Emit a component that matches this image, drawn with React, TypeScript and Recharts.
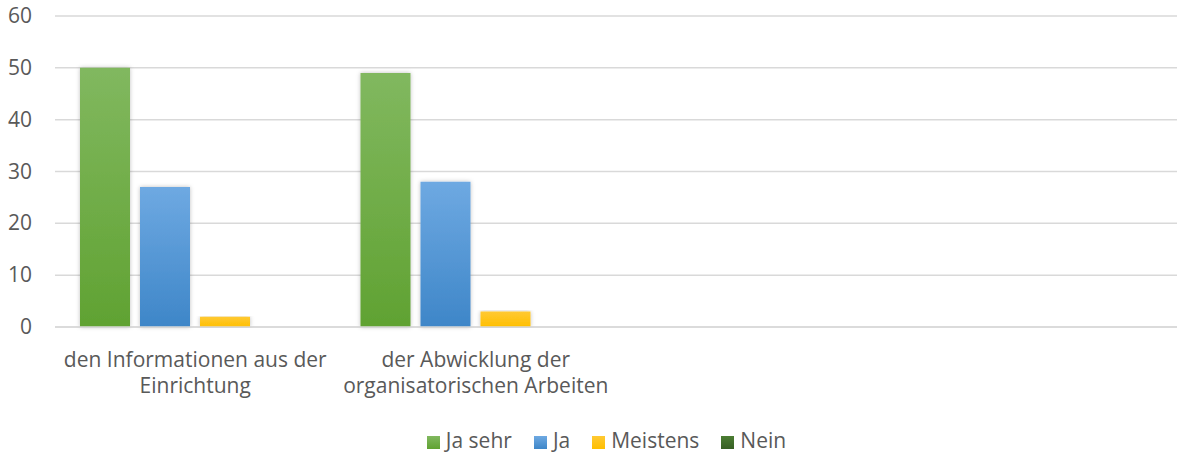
import { BarChart, Bar, XAxis, YAxis, CartesianGrid, Legend } from "recharts";

const categories = [
  "den Informationen aus der Einrichtung",
  "der Abwicklung der organisatorischen Arbeiten",
  "",
  "",
];
// how each category label breaks into lines on the axis
const categoryLines: Record<string, string[]> = {
  "den Informationen aus der Einrichtung": ["den Informationen aus der", "Einrichtung"],
  "der Abwicklung der organisatorischen Arbeiten": ["der Abwicklung der", "organisatorischen Arbeiten"],
};
const seriesNames = ["Ja sehr", "Ja", "Meistens", "Nein"];
const jaSehr = [50, 49, null, null];
const ja = [27, 28, null, null];
const meistens = [2, 3, null, null];
const nein = [0, 0, null, null];
const yTicks = [0, 10, 20, 30, 40, 50, 60];

const data = categories.map((name, i) => ({
  name,
  jaSehr: jaSehr[i],
  ja: ja[i],
  meistens: meistens[i],
  nein: nein[i],
}));

const FONT = "'Open Sans', 'Noto Sans', sans-serif";

function CategoryTick(props: any) {
  const { x, y, payload } = props;
  const lines = categoryLines[payload.value] || [];
  return (
    <text x={x} y={y} textAnchor="middle" fill="#595959" fontSize={21} fontFamily={FONT}>
      {lines.map((line, i) => (
        <tspan key={i} x={x} y={y + 32 + i * 26}>
          {line}
        </tspan>
      ))}
    </text>
  );
}

function YTick(props: any) {
  const { x, y, payload } = props;
  return (
    <text x={x} y={y + 7} textAnchor="end" fill="#595959" fontSize={21} fontFamily={FONT}>
      {payload.value}
    </text>
  );
}

export default function App() {
  return (
    <div style={{ position: "absolute", left: 0, top: 0, background: "#fff" }}>
      <BarChart
        width={1177}
        height={455}
        data={data}
        margin={{ top: 16, right: 0, bottom: 0, left: 0 }}
        barCategoryGap={25}
        barGap={10}
      >
        <defs>
          <linearGradient id="gGreen" x1="0" y1="0" x2="0" y2="1">
            <stop offset="0%" stopColor="#81b85f" />
            <stop offset="100%" stopColor="#60a232" />
          </linearGradient>
          <linearGradient id="gBlue" x1="0" y1="0" x2="0" y2="1">
            <stop offset="0%" stopColor="#6ea9e2" />
            <stop offset="100%" stopColor="#3e86c8" />
          </linearGradient>
          <linearGradient id="gYellow" x1="0" y1="0" x2="0" y2="1">
            <stop offset="0%" stopColor="#ffc933" />
            <stop offset="100%" stopColor="#ffbf00" />
          </linearGradient>
          <linearGradient id="gDark" x1="0" y1="0" x2="0" y2="1">
            <stop offset="0%" stopColor="#4b7d33" />
            <stop offset="100%" stopColor="#375f24" />
          </linearGradient>
          <filter id="shadow" x="-20%" y="-5%" width="140%" height="110%">
            <feDropShadow dx="0" dy="0" stdDeviation="2" floodColor="#000" floodOpacity="0.25" />
          </filter>
        </defs>
        <CartesianGrid vertical={false} stroke="#d9d9d9" strokeWidth={1.5} />
        <XAxis
          dataKey="name"
          axisLine={{ stroke: "#d9d9d9", strokeWidth: 1.5 }}
          tickLine={false}
          height={96}
          interval={0}
          tick={<CategoryTick />}
        />
        <YAxis
          domain={[0, 60]}
          ticks={yTicks}
          width={55}
          axisLine={false}
          tickLine={false}
          tickSize={0}
          tickMargin={23}
          tick={<YTick />}
        />
        <Legend
          verticalAlign="bottom"
          height={32}
          iconType="square"
          iconSize={13}
          itemSorter={(item: any) => seriesNames.indexOf(item.value)}
          wrapperStyle={{ fontFamily: FONT, fontSize: 21, lineHeight: "26px", bottom: -4, left: 29 }}
          formatter={(value: string) => (
            <span style={{ color: "#595959", marginLeft: 2, marginRight: 12 }}>{value}</span>
          )}
        />
        <Bar dataKey="jaSehr" name={seriesNames[0]} fill="url(#gGreen)" filter="url(#shadow)" isAnimationActive={false} />
        <Bar dataKey="ja" name={seriesNames[1]} fill="url(#gBlue)" filter="url(#shadow)" isAnimationActive={false} />
        <Bar dataKey="meistens" name={seriesNames[2]} fill="url(#gYellow)" filter="url(#shadow)" isAnimationActive={false} />
        <Bar dataKey="nein" name={seriesNames[3]} fill="url(#gDark)" filter="url(#shadow)" isAnimationActive={false} />
      </BarChart>
    </div>
  );
}
